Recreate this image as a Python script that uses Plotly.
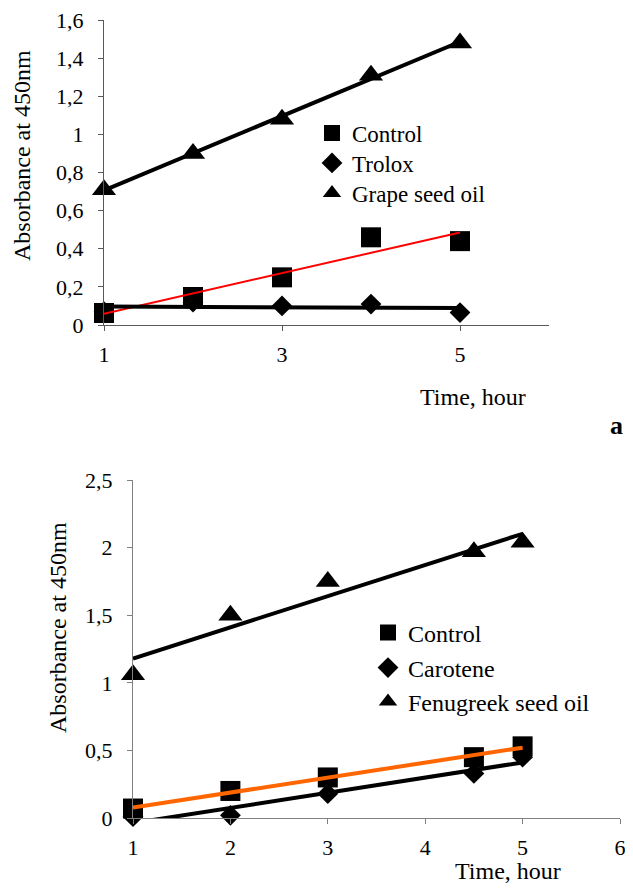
import numpy as np
import plotly.graph_objects as go

# ---------------- Panel a ----------------
time_a = [1, 2, 3, 4, 5]
control_a = [0.063, 0.147, 0.25, 0.46, 0.44]
trolox_a = [0.07, 0.12, 0.10, 0.11, 0.065]
grape_a = [0.71, 0.90, 1.08, 1.31, 1.48]

ytick_a = [0, 0.2, 0.4, 0.6, 0.8, 1.0, 1.2, 1.4, 1.6]
ytext_a = ["0", "0,2", "0,4", "0,6", "0,8", "1", "1,2", "1,4", "1,6"]
xtick_a = [1, 3, 5]

# ---------------- Panel b ----------------
time_b = [1, 2, 3, 4.5, 5]
control_b = [0.07, 0.20, 0.30, 0.45, 0.53]
carotene_b = [0.01, 0.02, 0.18, 0.33, 0.45]
fenugreek_b = [1.06, 1.50, 1.75, 1.97, 2.04]

ytick_b = [0, 0.5, 1.0, 1.5, 2.0, 2.5]
ytext_b = ["0", "0,5", "1", "1,5", "2", "2,5"]
xtick_b = [1, 2, 3, 4, 5, 6]

FONT = "Liberation Serif"

# page body has an 8px margin: keep the figure inside the window without scrolling
OFF = 8
W, H = 633 - 2 * OFF, 894 - 2 * OFF


def px(X):
    return (X - OFF) / W


def py(Y):
    return 1 - (Y - OFF) / H


def trend(x, y):
    k, b = np.polyfit(np.asarray(x, float), np.asarray(y, float), 1)
    xs = np.array([min(x), max(x)], float)
    return xs, k * xs + b


fig = go.Figure()

# --- panel a markers
fig.add_trace(go.Scatter(x=time_a, y=control_a, mode="markers", name="Control",
                         marker=dict(symbol="square", size=20, color="black"),
                         cliponaxis=False, xaxis="x", yaxis="y", legend="legend"))
fig.add_trace(go.Scatter(x=time_a, y=trolox_a, mode="markers", name="Trolox",
                         marker=dict(symbol="diamond", size=16, color="black"),
                         cliponaxis=False, xaxis="x", yaxis="y", legend="legend2"))
fig.add_trace(go.Scatter(x=time_a, y=grape_a, mode="markers", name="Grape seed oil",
                         marker=dict(symbol="triangle-up", size=21, color="black"),
                         cliponaxis=False, xaxis="x", yaxis="y", legend="legend3"))
# --- panel a trendlines
for yy, col, w in [(control_a, "#ff0000", 2), (trolox_a, "black", 4), (grape_a, "black", 4)]:
    tx, ty = trend(time_a, yy)
    fig.add_trace(go.Scatter(x=tx, y=ty, mode="lines", line=dict(color=col, width=w),
                             showlegend=False, hoverinfo="skip", xaxis="x", yaxis="y"))

# --- panel b markers
fig.add_trace(go.Scatter(x=time_b, y=control_b, mode="markers", name="Control",
                         marker=dict(symbol="square", size=20, color="black"),
                         cliponaxis=False, xaxis="x2", yaxis="y2", legend="legend4"))
fig.add_trace(go.Scatter(x=time_b, y=carotene_b, mode="markers", name="Carotene",
                         marker=dict(symbol="diamond", size=16, color="black"),
                         cliponaxis=False, xaxis="x2", yaxis="y2", legend="legend5"))
fig.add_trace(go.Scatter(x=time_b, y=fenugreek_b, mode="markers", name="Fenugreek seed oil",
                         marker=dict(symbol="triangle-up", size=21, color="black"),
                         cliponaxis=False, xaxis="x2", yaxis="y2", legend="legend6"))
# --- panel b trendlines
for yy, col, w in [(carotene_b, "black", 4), (control_b, "#ff6600", 4), (fenugreek_b, "black", 4)]:
    tx, ty = trend(time_b, yy)
    fig.add_trace(go.Scatter(x=tx, y=ty, mode="lines", line=dict(color=col, width=w),
                             showlegend=False, hoverinfo="skip", xaxis="x2", yaxis="y2"))

axis_common = dict(showgrid=False, zeroline=False, showline=True, linewidth=1,
                   ticks="outside", ticklen=5, tickwidth=1, automargin=False,
                   ticklabeloverflow="allow",
                   tickfont=dict(family=FONT, size=22, color="black"))


def leg(xpix, ypix, size):
    return dict(x=px(xpix), y=py(ypix), xanchor="left", yanchor="middle",
                font=dict(family=FONT, size=size, color="black"),
                bgcolor="rgba(0,0,0,0)", borderwidth=0)


fig.update_layout(
    width=W, height=H,
    margin=dict(l=0, r=0, t=0, b=0, autoexpand=False),
    paper_bgcolor="white", plot_bgcolor="white",
    font=dict(family=FONT, color="black"),
    xaxis=dict(domain=[px(104), px(549)], range=[1, 6], tickmode="array",
               tickvals=xtick_a, anchor="y", linecolor="#595959", tickcolor="#595959",
               ticklabelstandoff=5, **axis_common),
    yaxis=dict(domain=[py(325), py(20)], range=[0, 1.6], tickmode="array",
               tickvals=ytick_a, ticktext=ytext_a, anchor="x", linecolor="#595959",
               tickcolor="#595959", ticklabelstandoff=10, **axis_common),
    xaxis2=dict(domain=[px(133), px(620)], range=[1, 6], tickmode="array",
                tickvals=xtick_b, anchor="y2", linecolor="#808080", tickcolor="#808080",
                ticklabelstandoff=5, **axis_common),
    yaxis2=dict(domain=[py(818), py(480)], range=[0, 2.5], tickmode="array",
                tickvals=ytick_b, ticktext=ytext_b, anchor="x2", linecolor="#808080",
                tickcolor="#808080", ticklabelstandoff=10, **axis_common),
    legend=leg(312, 133, 23),
    legend2=leg(312, 163, 23),
    legend3=leg(312, 193, 23),
    legend4=leg(368, 633, 24),
    legend5=leg(368, 668, 24),
    legend6=leg(368, 702, 24),
    showlegend=True,
)

ann_font = dict(family=FONT, size=24, color="black")
fig.add_annotation(text="Absorbance at 450nm", textangle=-90, xref="paper", yref="paper",
                   x=px(22), y=py(156), xanchor="center", yanchor="middle",
                   showarrow=False, font=ann_font)
fig.add_annotation(text="Time, hour", xref="paper", yref="paper",
                   x=px(473), y=py(397), xanchor="center", yanchor="middle",
                   showarrow=False, font=ann_font)
fig.add_annotation(text="<b>a</b>", xref="paper", yref="paper",
                   x=1.0, y=py(425), xanchor="right", yanchor="middle",
                   showarrow=False, font=dict(family=FONT, size=26, color="black"))
fig.add_annotation(text="Absorbance at 450nm", textangle=-90, xref="paper", yref="paper",
                   x=px(58), y=py(628), xanchor="center", yanchor="middle",
                   showarrow=False, font=ann_font)
fig.add_annotation(text="Time, hour", xref="paper", yref="paper",
                   x=px(508), y=0.0, xanchor="center", yanchor="bottom",
                   showarrow=False, font=ann_font)

fig.write_html("out.html")
